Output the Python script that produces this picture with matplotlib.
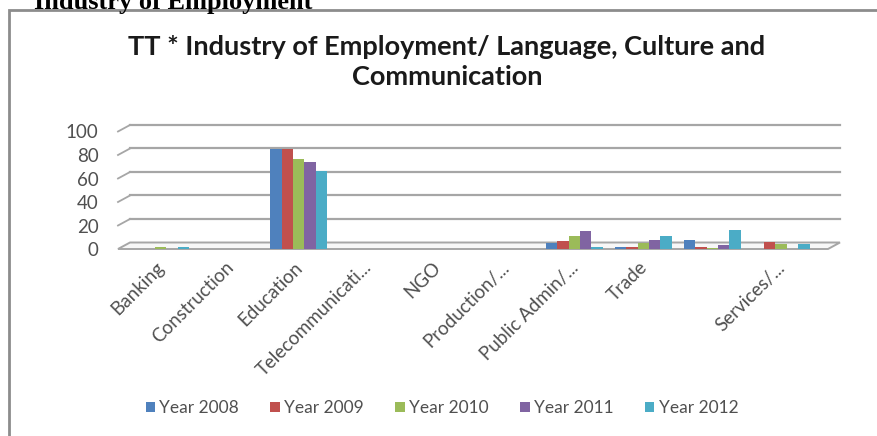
import numpy as np
import matplotlib.pyplot as plt
from matplotlib.patches import Patch, Rectangle, Polygon
from matplotlib.transforms import ScaledTranslation

W, H = 878, 436

categories = ['Banking', 'Construction', 'Education', 'Telecommunicati...', 'NGO',
              'Production/...', 'Public Admin/...', 'Trade', '', 'Services/...']
years = ['Year 2008', 'Year 2009', 'Year 2010', 'Year 2011', 'Year 2012']
y2008 = [0, 0, 85, 0, 0, 0, 5, 2, 8, 0]
y2009 = [0, 0, 85, 0, 0, 0, 7, 2, 2, 6]
y2010 = [2, 0, 77, 0, 0, 0, 11, 5, 1, 4]
y2011 = [0, 0, 74, 0, 0, 0, 15, 8, 3, 0]
y2012 = [2, 0, 66, 0, 0, 0, 2, 11, 16, 4]
colors = ['#4F81BD', '#C0504D', '#9BBB59', '#8064A2', '#4BACC6']

plt.rcParams['font.family'] = ['Lato', 'DejaVu Sans']

fig = plt.figure(figsize=(W / 100, H / 100), dpi=100)

def fx(px):
    return px / W

def fy(py):
    return 1 - py / H

# section heading above the chart, running off the top edge
fig.text(fx(34), fy(9), 'Industry of Employment', fontsize=19, fontweight='bold',
         family='Liberation Serif', va='baseline', ha='left')

# chart frame
fig.patches.append(Rectangle((fx(9), fy(470)), fx(900), fy(10) - fy(470),
                             transform=fig.transFigure, fill=False,
                             edgecolor='#8c8c8c', linewidth=2))

fig.text(fx(447), fy(47), 'TT * Industry of Employment/ Language, Culture and',
         fontsize=19.5, fontweight='bold', ha='center', va='center', color='#1a1a1a')
fig.text(fx(447), fy(77), 'Communication',
         fontsize=19.5, fontweight='bold', ha='center', va='center', color='#1a1a1a')

left, right, bottom, top = 118, 828, 249, 131.5
ax = fig.add_axes([fx(left), fy(bottom), fx(right - left), fy(top) - fy(bottom)])
xmin, xmax = -0.62, 9.68
ax.set_xlim(xmin, xmax)
ax.set_ylim(0, 100)

# depth of the 3D wall in data units
px_x = (right - left) / (xmax - xmin)
px_y = (bottom - top) / 100
dx, dy = 12 / px_x, 6.5 / px_y

grid_c = '#a6a6a6'
for v in range(20, 101, 20):
    ax.plot([xmin + dx, xmax + dx], [v + dy, v + dy], color=grid_c, lw=1.6,
            clip_on=False, zorder=1)
    ax.plot([xmin, xmin + dx], [v, v + dy], color=grid_c, lw=1.3,
            clip_on=False, zorder=1)

# floor
floor = Polygon([[xmin, 0], [xmax, 0], [xmax + dx, dy], [xmin + dx, dy]],
                closed=True, facecolor='#f7f7f7', edgecolor=grid_c, lw=1.4,
                clip_on=False, zorder=1)
ax.add_patch(floor)

x = np.arange(len(categories))
w = 0.165
series = [y2008, y2009, y2010, y2011, y2012]
for j, (vals, c) in enumerate(zip(series, colors)):
    ax.bar(x + (j - 2) * w, vals, width=w, color=c, linewidth=0, zorder=3)

for s in ax.spines.values():
    s.set_visible(False)
ax.set_yticks(range(0, 101, 20))
ax.tick_params(axis='y', length=0, pad=14, labelsize=13.5, labelcolor='#505050')
ax.set_xticks(x)
ax.set_xticklabels(categories, rotation=45, ha='right', va='top',
                   rotation_mode='anchor', fontsize=13.5, color='#505050')
ax.tick_params(axis='x', length=0, pad=7)
shift = ScaledTranslation(-5 / 100, 0, fig.dpi_scale_trans)
for lab in ax.get_xticklabels():
    lab.set_transform(lab.get_transform() + shift)

legend_handles = [Patch(facecolor=c, edgecolor='none') for c in colors]
fig.legend(legend_handles, years, loc='center', bbox_to_anchor=(fx(442), fy(408)),
           ncol=5, frameon=False, fontsize=12.5, handlelength=0.55, handleheight=0.55,
           handletextpad=0.25, columnspacing=1.8, labelcolor='#505050')

fig.savefig('out.png', dpi=100)
